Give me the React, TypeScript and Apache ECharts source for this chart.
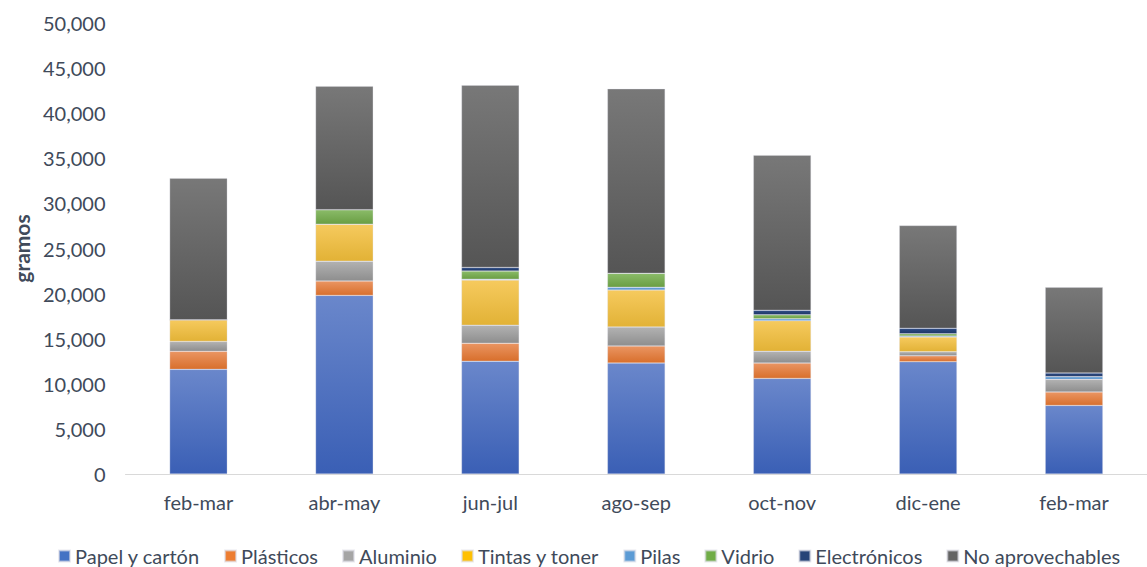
import React, { useEffect, useRef } from "react";
import * as echarts from "echarts";

const categories = ["feb-mar", "abr-may", "jun-jul", "ago-sep", "oct-nov", "dic-ene", "feb-mar"];
const papel = [11600, 19800, 12500, 12300, 10600, 12450, 7600];
const plasticos = [2000, 1600, 2000, 1900, 1700, 650, 1500];
const aluminio = [1100, 2200, 2000, 2100, 1300, 450, 1400];
const tintas = [2400, 4100, 5000, 4100, 3400, 1650, 0];
const pilas = [0, 0, 100, 300, 200, 100, 300];
const vidrio = [0, 1600, 900, 1550, 450, 250, 0];
const electronicos = [0, 0, 400, 0, 500, 600, 400];
const noAprovechables = [15700, 13700, 20200, 20450, 17200, 11400, 9500];
const yTicks = [0, 5000, 10000, 15000, 20000, 25000, 30000, 35000, 40000, 45000, 50000];

const seriesDefs = [
  { name: "Papel y cartón", data: papel, top: "#6A87CB", bottom: "#3A5FB5", legend: "#4472C4" },
  { name: "Plásticos", data: plasticos, top: "#EA9562", bottom: "#D86F2C", legend: "#ED7D31" },
  { name: "Aluminio", data: aluminio, top: "#B2B2B2", bottom: "#8E8E8E", legend: "#A5A5A5" },
  { name: "Tintas y toner", data: tintas, top: "#F6CA5E", bottom: "#E2B236", legend: "#FFC000" },
  { name: "Pilas", data: pilas, top: "#6FA8DD", bottom: "#4D8CC8", legend: "#5B9BD5" },
  { name: "Vidrio", data: vidrio, top: "#8ABB68", bottom: "#6A9E44", legend: "#70AD47" },
  { name: "Electrónicos", data: electronicos, top: "#2E4C86", bottom: "#1E3766", legend: "#264478" },
  { name: "No aprovechables", data: noAprovechables, top: "#787878", bottom: "#555555", legend: "#636363" },
];

export default function App() {
  const ref = useRef<HTMLDivElement>(null);
  useEffect(() => {
    if (!ref.current) return;
    const chart = echarts.init(ref.current, null, { renderer: "svg" });
    const font = "Lato, 'Open Sans', sans-serif";
    chart.setOption({
      animation: false,
      textStyle: { fontFamily: font },
      color: seriesDefs.map((s) => s.legend),
      grid: { left: 125.5, top: 23, width: 1029, height: 451 },
      legend: {
        top: 541,
        left: 53,
        itemWidth: 11,
        itemHeight: 11,
        itemGap: 24,
        icon: "rect",
        textStyle: { fontSize: 20, color: "#404A5A", fontFamily: font },
        data: seriesDefs.map((s) => ({ name: s.name, itemStyle: { color: s.legend } })),
      },
      xAxis: {
        type: "category",
        data: categories,
        axisLine: { show: true, lineStyle: { color: "#D9D9D9", width: 1 } },
        axisTick: { show: false },
        axisLabel: { fontSize: 20, color: "#404A5A", margin: 18, fontFamily: font },
      },
      yAxis: {
        type: "value",
        min: 0,
        max: 50000,
        interval: 5000,
        name: "gramos",
        nameLocation: "middle",
        nameGap: 92,
        nameTextStyle: { fontSize: 21, fontWeight: "bold", color: "#404A5A", fontFamily: font },
        axisLine: { show: false },
        axisTick: { show: false },
        splitLine: { show: false },
        axisLabel: {
          fontSize: 20,
          color: "#404A5A",
          margin: 20,
          fontFamily: font,
          formatter: (v: number) => (yTicks.includes(v) ? v.toLocaleString("en-US") : ""),
        },
      },
      series: seriesDefs.map((s) => ({
        name: s.name,
        type: "bar",
        stack: "total",
        barWidth: "39.5%",
        data: s.data,
        itemStyle: {
          color: new echarts.graphic.LinearGradient(0, 0, 0, 1, [
            { offset: 0, color: s.top },
            { offset: 1, color: s.bottom },
          ]),
          borderColor: "rgba(220,220,230,0.6)",
          borderWidth: 0.5,
        },
      })),
    });
    return () => chart.dispose();
  }, []);
  return (
    <div
      ref={ref}
      style={{ position: "fixed", left: 0, top: 0, width: 1147, height: 567, background: "#fff" }}
    />
  );
}
